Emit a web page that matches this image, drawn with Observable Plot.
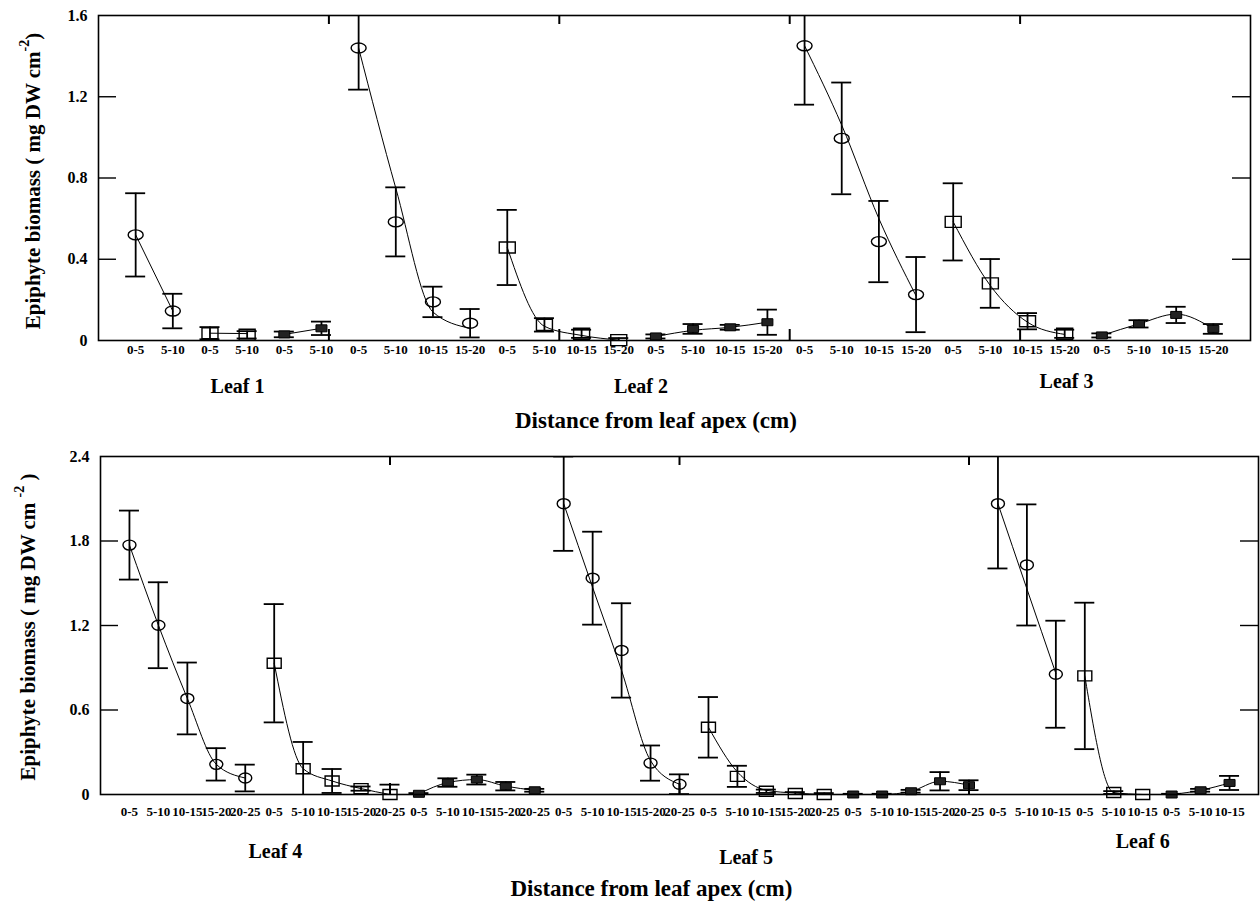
<!DOCTYPE html>
<html>
<head>
<meta charset="utf-8">
<script src="https://cdn.jsdelivr.net/npm/d3@7"></script>
<script src="https://cdn.jsdelivr.net/npm/@observablehq/plot@0.6"></script>
<style>
  html, body { margin: 0; padding: 0; background: #fff; }
  #chart svg { display: block; }
  #chart svg text { font-family: "Liberation Serif", "Times New Roman", serif; font-weight: bold; fill: #000; }
  #chart [aria-label^="x-axis"] text { font-size: 13px; }
  #chart [aria-label^="y-axis"] text { font-size: 16px; }
</style>
</head>
<body>
<div id="chart"></div>
<script>
// ---------------- DATA ----------------
// Top panel (Leaf 1 - Leaf 3)
const distTop = ["0-5","5-10","0-5","5-10","0-5","5-10",
  "0-5","5-10","10-15","15-20","0-5","5-10","10-15","15-20","0-5","5-10","10-15","15-20",
  "0-5","5-10","10-15","15-20","0-5","5-10","10-15","15-20","0-5","5-10","10-15","15-20"];
const leafTop = ["Leaf 1","Leaf 1","Leaf 1","Leaf 1","Leaf 1","Leaf 1",
  "Leaf 2","Leaf 2","Leaf 2","Leaf 2","Leaf 2","Leaf 2","Leaf 2","Leaf 2","Leaf 2","Leaf 2","Leaf 2","Leaf 2",
  "Leaf 3","Leaf 3","Leaf 3","Leaf 3","Leaf 3","Leaf 3","Leaf 3","Leaf 3","Leaf 3","Leaf 3","Leaf 3","Leaf 3"];
const seriesTop = ["o","o","s","s","f","f",
  "o","o","o","o","s","s","s","s","f","f","f","f",
  "o","o","o","o","s","s","s","s","f","f","f","f"];
const meanTop = [0.52,0.145,0.036,0.028,0.03,0.06,
  1.44,0.584,0.19,0.085,0.458,0.077,0.033,0.002,0.02,0.057,0.065,0.09,
  1.451,0.995,0.487,0.226,0.584,0.281,0.095,0.033,0.025,0.082,0.126,0.057];
const errTop = [0.205,0.085,0.03,0.018,0.014,0.033,
  0.205,0.17,0.075,0.07,0.185,0.033,0.02,0.01,0.01,0.024,0.012,0.062,
  0.29,0.275,0.2,0.185,0.19,0.12,0.04,0.02,0.01,0.018,0.04,0.024];
const fitTop = [0.52,0.145,0.036,0.034,0.03,0.06,
  1.44,0.75,0.14,0.06,0.458,0.07,0.025,0.002,0.02,0.05,0.065,0.09,
  1.451,1.06,0.6,0.22,0.584,0.27,0.09,0.03,0.025,0.082,0.13,0.057];
const yTicksTop = [0, 0.4, 0.8, 1.2, 1.6];

// Bottom panel (Leaf 4 - Leaf 6)
const distBot = ["0-5","5-10","10-15","15-20","20-25","0-5","5-10","10-15","15-20","20-25","0-5","5-10","10-15","15-20","20-25",
  "0-5","5-10","10-15","15-20","20-25","0-5","5-10","10-15","15-20","20-25","0-5","5-10","10-15","15-20","20-25",
  "0-5","5-10","10-15","0-5","5-10","10-15","0-5","5-10","10-15"];
const leafBot = ["Leaf 4","Leaf 4","Leaf 4","Leaf 4","Leaf 4","Leaf 4","Leaf 4","Leaf 4","Leaf 4","Leaf 4","Leaf 4","Leaf 4","Leaf 4","Leaf 4","Leaf 4",
  "Leaf 5","Leaf 5","Leaf 5","Leaf 5","Leaf 5","Leaf 5","Leaf 5","Leaf 5","Leaf 5","Leaf 5","Leaf 5","Leaf 5","Leaf 5","Leaf 5","Leaf 5",
  "Leaf 6","Leaf 6","Leaf 6","Leaf 6","Leaf 6","Leaf 6","Leaf 6","Leaf 6","Leaf 6"];
const seriesBot = ["o","o","o","o","o","s","s","s","s","s","f","f","f","f","f",
  "o","o","o","o","o","s","s","s","s","s","f","f","f","f","f",
  "o","o","o","s","s","s","f","f","f"];
const meanBot = [1.771,1.202,0.682,0.214,0.117, 0.932,0.183,0.096,0.042,0.0, 0.005,0.085,0.106,0.059,0.03,
  2.065,1.536,1.023,0.223,0.073, 0.477,0.129,0.023,0.007,0.0, 0.0,0.0,0.023,0.094,0.066,
  2.065,1.63,0.854, 0.842,0.014,0.0, 0.0,0.03,0.082];
const errBot = [0.245,0.305,0.255,0.115,0.095, 0.42,0.19,0.085,0.015,0.07, 0.005,0.03,0.035,0.03,0.01,
  0.335,0.33,0.335,0.125,0.07, 0.215,0.075,0.012,0.01,0.01, 0.005,0.005,0.01,0.065,0.035,
  0.46,0.43,0.38, 0.52,0.01,0.0, 0.005,0.01,0.05];
const fitBot = [1.771,1.202,0.682,0.214,0.117, 0.932,0.183,0.096,0.042,0.0, 0.005,0.085,0.106,0.059,0.03,
  2.065,1.47,0.88,0.24,0.073, 0.477,0.16,0.03,0.01,0.0, 0.0,0.0,0.023,0.094,0.066,
  2.065,1.46,0.86, 0.842,0.014,0.0, 0.0,0.03,0.082];
const yTicksBot = [0, 0.6, 1.2, 1.8, 2.4];

const xTitle = "Distance from leaf apex (cm)";

// ---------------- LAYOUT ----------------
const layoutTop = {
  height: 440, marginTop: 15, marginBottom: 100, marginLeft: 98, marginRight: 10,
  ymax: 1.6, frameTicks: [6.2, 12.4, 18.6, 24.8], tickPadding: 4,
  leafPos: {"Leaf 1": [3.74, 52], "Leaf 2": [14.6, 52], "Leaf 3": [26.05, 47]},
  titlePos: [15.0, 87],
  yTitle: {x: 35, y: 181, main: "Epiphyte biomass ( mg DW cm", sup: "-2", tail: ")"},
  ellipse: [7.5, 5], square: [16, 11], filled: [11, 7]
};
const layoutBot = {
  height: 465, marginTop: 16, marginBottom: 111, marginLeft: 100, marginRight: 2,
  ymax: 2.4, frameTicks: [10, 20, 30], tickPadding: 12,
  leafPos: {"Leaf 4": [6.04, 63], "Leaf 5": [22.3, 69], "Leaf 6": [36.0, 53]},
  titlePos: [19.03, 101],
  yTitle: {x: 30, y: 187, main: "Epiphyte biomass ( mg DW cm ", sup: "-2", tail: " )"},
  ellipse: [6.5, 5], square: [14, 10], filled: [11, 7]
};

function ellipseSymbol(rx, ry) {
  const k = 0.5523;
  return {draw(c) {
    c.moveTo(rx, 0);
    c.bezierCurveTo(rx, ry * k, rx * k, ry, 0, ry);
    c.bezierCurveTo(-rx * k, ry, -rx, ry * k, -rx, 0);
    c.bezierCurveTo(-rx, -ry * k, -rx * k, -ry, 0, -ry);
    c.bezierCurveTo(rx * k, -ry, rx, -ry * k, rx, 0);
    c.closePath();
  }};
}
function rectSymbol(w, h) {
  return {draw(c) {
    c.moveTo(-w / 2, -h / 2); c.lineTo(w / 2, -h / 2);
    c.lineTo(w / 2, h / 2); c.lineTo(-w / 2, h / 2); c.closePath();
  }};
}

function panel(dist, leaf, series, mean, err, fit, yTicks, L) {
  const rows = dist.map((d, k) => ({i: k + 1, dist: d, leaf: leaf[k], s: series[k], mean: mean[k], err: err[k], fit: fit[k]}));
  const n = rows.length;
  const fw = 1260 - L.marginLeft - L.marginRight;
  const fh = L.height - L.marginTop - L.marginBottom;
  const bars = rows.filter(d => d.err > 0);
  const leaves = Array.from(new Set(leaf));
  const marks = [
    Plot.line(rows, {x: "i", y: "fit", z: d => d.leaf + d.s, curve: "monotone-x", stroke: "#000", strokeWidth: 1}),
    Plot.ruleX(bars, {x: "i", y1: d => Math.max(0, d.mean - d.err), y2: d => d.mean + d.err, stroke: "#000", strokeWidth: 1.8, clip: true}),
    Plot.ruleY(bars, {x1: "i", x2: "i", y: d => d.mean + d.err, insetLeft: -10, insetRight: -10, stroke: "#000", strokeWidth: 1.8, clip: true}),
    Plot.ruleY(bars.filter(d => d.mean - d.err > 0), {x1: "i", x2: "i", y: d => d.mean - d.err, insetLeft: -10, insetRight: -10, stroke: "#000", strokeWidth: 1.8, clip: true}),
    Plot.dot(rows.filter(d => d.s === "o"), {x: "i", y: "mean", symbol: ellipseSymbol(...L.ellipse), fill: "none", stroke: "#000", strokeWidth: 1.4}),
    Plot.dot(rows.filter(d => d.s === "s"), {x: "i", y: "mean", symbol: rectSymbol(...L.square), fill: "none", stroke: "#000", strokeWidth: 1.4}),
    Plot.dot(rows.filter(d => d.s === "f"), {x: "i", y: "mean", symbol: rectSymbol(...L.filled), fill: "#222", stroke: "#000", strokeWidth: 1}),
    Plot.frame({stroke: "#000", strokeWidth: 1.6}),
    Plot.tickY(yTicks.filter(v => v > 0 && v < L.ymax), {y: d => d, insetRight: fw - 18, stroke: "#000", strokeWidth: 1.4}),
    Plot.tickY(yTicks.filter(v => v > 0 && v < L.ymax), {y: d => d, insetLeft: fw - 18, stroke: "#000", strokeWidth: 1.4}),
    Plot.tickX(L.frameTicks, {x: d => d, insetBottom: fh - 9, stroke: "#000", strokeWidth: 2}),
    Plot.tickX(L.frameTicks, {x: d => d, insetTop: fh - 11, stroke: "#000", strokeWidth: 2})
  ];
  for (const name of leaves) {
    const [px, dy] = L.leafPos[name];
    marks.push(Plot.text([name], {x: () => px, text: d => d, frameAnchor: "bottom", dy, fontSize: 20, fontWeight: "bold", fontFamily: "Liberation Serif"}));
  }
  marks.push(Plot.text([xTitle], {x: () => L.titlePos[0], text: d => d, frameAnchor: "bottom", dy: L.titlePos[1], fontSize: 23, fontWeight: "bold", fontFamily: "Liberation Serif"}));

  const svg = Plot.plot({
    width: 1260, height: L.height,
    marginTop: L.marginTop, marginBottom: L.marginBottom, marginLeft: L.marginLeft, marginRight: L.marginRight,
    style: {background: "#fff", overflow: "visible", fontFamily: "Liberation Serif", fontWeight: "bold", fontSize: "13px", color: "#000"},
    x: {domain: [0, n + 1], ticks: rows.map(d => d.i), tickFormat: i => dist[i - 1], tickSize: 0, tickPadding: L.tickPadding, label: null},
    y: {domain: [0, L.ymax], ticks: yTicks, tickFormat: v => v === 0 ? "0" : v.toFixed(1), tickSize: 0, tickPadding: 11, label: null},
    marks
  });
  const t = d3.select(svg).append("text")
    .attr("transform", `translate(${L.yTitle.x},${L.yTitle.y}) rotate(-90)`)
    .attr("text-anchor", "middle")
    .attr("dominant-baseline", "middle")
    .style("font-size", "21px");
  t.append("tspan").text(L.yTitle.main);
  t.append("tspan").attr("dy", -9).style("font-size", "14px").text(L.yTitle.sup);
  t.append("tspan").attr("dy", 9).text(L.yTitle.tail);
  return svg;
}

const root = document.getElementById("chart");
root.appendChild(panel(distTop, leafTop, seriesTop, meanTop, errTop, fitTop, yTicksTop, layoutTop));
root.appendChild(panel(distBot, leafBot, seriesBot, meanBot, errBot, fitBot, yTicksBot, layoutBot));
</script>
</body>
</html>
